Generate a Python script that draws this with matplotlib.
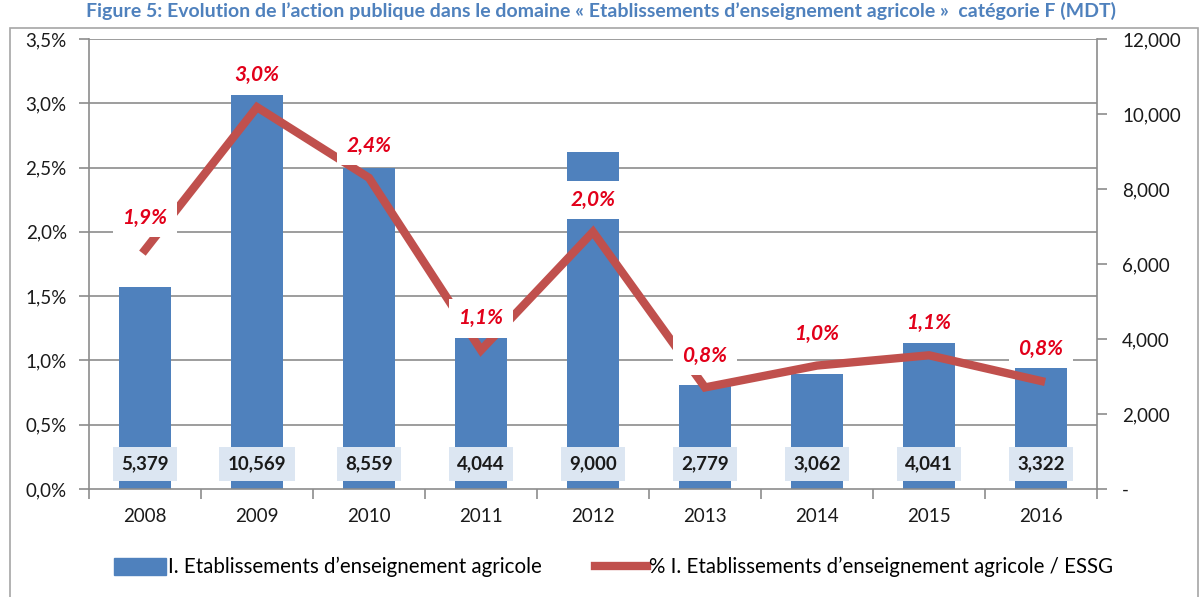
import matplotlib
matplotlib.use("Agg")
import matplotlib.pyplot as plt
import matplotlib.patches as mpatches
import matplotlib.lines as mlines
import numpy as np

plt.rcParams['font.family'] = ['Lato', 'DejaVu Sans']

# data
years = ['2008', '2009', '2010', '2011', '2012', '2013', '2014', '2015', '2016']
amounts = [5379, 10569, 8559, 4044, 9000, 2779, 3062, 4041, 3322]
shares = [1.86, 2.97, 2.42, 1.08, 2.00, 0.79, 0.96, 1.04, 0.84]
share_labels = ['1,9%', '3,0%', '2,4%', '1,1%', '2,0%', '0,8%', '1,0%', '1,1%', '0,8%']
pct_ticks = [0.0, 0.5, 1.0, 1.5, 2.0, 2.5, 3.0, 3.5]
amount_ticks = [0, 2000, 4000, 6000, 8000, 10000, 12000]

title = ("Figure 5: Evolution de l\u2019action publique dans le domaine "
         "\u00ab Etablissements d\u2019enseignement agricole \u00bb  cat\u00e9gorie F (MDT)")
bar_name = "I. Etablissements d\u2019enseignement agricole"
line_name = "% I. Etablissements d\u2019enseignement agricole / ESSG"

BLUE = '#4f81bd'
RED = '#c0504d'
LABEL_RED = '#e2001a'
GRID = '#8c8c8c'
TXT = '#1a1a1a'

fig = plt.figure(figsize=(12.03, 5.97), dpi=100)

# outer chart frame
fig.patches.append(mpatches.Rectangle((10 / 1203, -0.05), 1188 / 1203, 1.05 - 28 / 597,
                                      transform=fig.transFigure, fill=False,
                                      edgecolor='#a6a6a6', lw=1.2))
fig.text(0.5, 1 - 17 / 597, title, ha='center', va='baseline', fontsize=14,
         fontweight='bold', color='#4f81bd')

axb = fig.add_axes([89 / 1203, 108 / 597, 1008 / 1203, 450 / 597])
axl = axb.twinx()

x = np.arange(len(years))
pmax = pct_ticks[-1]
amax = amount_ticks[-1]

# horizontal grid (follows the left percentage axis), behind the bars
for g in pct_ticks[1:]:
    axb.axhline(g / pmax * amax, color=GRID, lw=1.2, zorder=0)

axb.bar(x, amounts, width=0.47, color=BLUE, zorder=2)
for xi, v in zip(x, amounts):
    axb.text(xi, 660, f"{v:,}", ha='center', va='center', fontsize=13.5,
             fontweight='bold', color=TXT, zorder=3,
             bbox=dict(boxstyle='square,pad=0.45', fc='#dce6f2', ec='none'))

axb.set_xlim(-0.5, len(years) - 0.5)
axb.set_ylim(0, amax)
axb.set_xticks(x)
axb.set_xticklabels(years, fontsize=13.5, color=TXT)
axb.set_xticks(np.arange(len(years) + 1) - 0.5, minor=True)
axb.tick_params(axis='x', which='major', length=0, pad=14)
axb.tick_params(axis='x', which='minor', length=7, color=GRID, width=1.2)
axb.set_yticks(amount_ticks)
axb.set_yticklabels(['-' if t == 0 else f"{t:,}" for t in amount_ticks])
axb.tick_params(axis='y', left=False, labelleft=False, right=True, labelright=True,
                length=7, color=GRID, width=1.2, pad=11,
                labelsize=13.5, labelcolor=TXT)
for s in ['left', 'right', 'bottom']:
    axb.spines[s].set_color(GRID)
    axb.spines[s].set_linewidth(1.2)
axb.spines['top'].set_visible(False)

axl.plot(x, shares, color=RED, lw=6, solid_joinstyle='miter', zorder=2)
for xi, v, lab in zip(x, shares, share_labels):
    axl.annotate(lab, (xi, v), xytext=(0, 23), textcoords='offset points',
                 ha='center', va='center', fontsize=15, fontweight='bold',
                 fontstyle='italic', color=LABEL_RED, zorder=4,
                 bbox=dict(boxstyle='square,pad=0.45', fc='white', ec='none'))
axl.set_ylim(0, pmax)
axl.set_yticks(pct_ticks)
axl.set_yticklabels([f"{t:.1f}%".replace('.', ',') for t in pct_ticks])
axl.tick_params(axis='y', left=True, labelleft=True, right=False, labelright=False,
                length=7, color=GRID, width=1.2, pad=9,
                labelsize=13.5, labelcolor=TXT)
for s in axl.spines.values():
    s.set_visible(False)

handles = [mpatches.Patch(color=BLUE, label=bar_name),
           mlines.Line2D([], [], color=RED, lw=6, label=line_name)]
fig.legend(handles=handles, loc='center', bbox_to_anchor=(0.510, 0.05), ncol=2,
           frameon=False, fontsize=14.8, handlelength=2.5, handletextpad=0.1,
           columnspacing=2.6, handleheight=0.9)

fig.savefig('out.png', dpi=100)
